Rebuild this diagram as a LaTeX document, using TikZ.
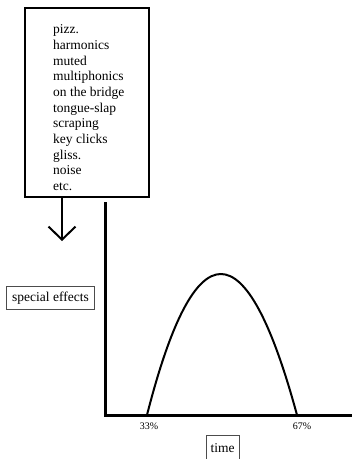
\documentclass[tikz,border=0pt]{standalone}
\usepackage{fontspec}
\setmainfont{Liberation Serif}
\usetikzlibrary{arrows.meta}
\begin{document}
\begin{tikzpicture}[x=1pt,y=-1pt,
  lbl/.style={font=\fontsize{13.5}{15.7}\selectfont},
  tagbox/.style={draw=black!70, line width=0.8pt, lbl, inner sep=0pt},
  pct/.style={font=\fontsize{10}{12}\selectfont, inner sep=0pt},
  axis/.style={line width=3pt},
]
\useasboundingbox (0,0) rectangle (352,459);
\clip (0,0) rectangle (352,459);

% list of techniques in a framed box
\node (frame) [draw, line width=2pt, minimum width=124pt, minimum height=189pt,
  anchor=north west, inner sep=0pt] at (24,7) {};
\node (list) [lbl, anchor=north west, inner sep=0pt, align=left] at (53,24.5)
  {pizz.\\harmonics\\muted\\multiphonics\\on the bridge\\tongue-slap\\scraping\\key clicks\\gliss.\\noise\\etc.};

% arrow pointing down from the box
\coordinate (arrowend) at (62,241);
\draw[line width=2pt, -{Straight Barb[length=13pt,width=27pt,line width=2pt]}]
  (frame.south -| arrowend) -- (arrowend);

% axes
\coordinate (origin) at (105,415);
\coordinate (ytop) at (105,202);
\coordinate (xend) at (353,415);
\draw[axis] (ytop) -- (origin.center) -- (xend);

% parabolic curve between the 33% and 67% marks
\coordinate (start) at (147,415);
\coordinate (stop) at (297,415);
\draw[line width=2pt] (start) .. controls (195,227) and (246,227) .. (stop);

\node (p33) [pct] at (149,426) {33\%};
\node (p67) [pct] at (302,426) {67\%};

% axis labels
\node (yl) [tagbox, minimum width=88pt, minimum height=23pt] at (50.5,298) {special effects};
\node (xl) [tagbox, minimum width=33pt, minimum height=26pt] at (222.5,448) {time};
\end{tikzpicture}
\end{document}
